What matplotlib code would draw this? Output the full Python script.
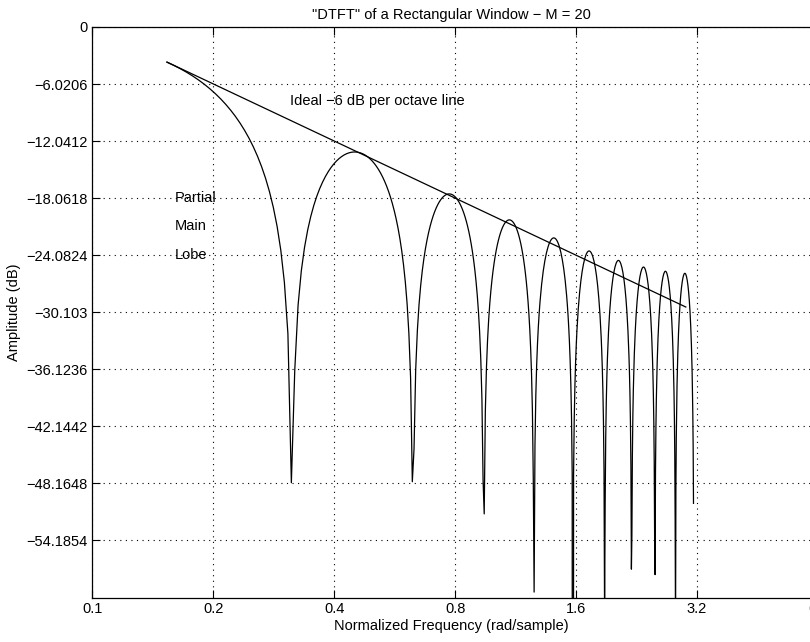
import numpy as np
import matplotlib.pyplot as plt
from matplotlib.ticker import NullLocator

# rectangular window, M = 20, evaluated like freqz (512 points on [0, pi))
window = [1] * 20
n_freq = 512
first_index = 25

# ideal -6 dB/octave line, end points
ideal_w = [0.1534, 3.0]
ideal_db = [-3.7, -29.55]

x_ticks = [0.1, 0.2, 0.4, 0.8, 1.6, 3.2, 6.4]
x_labels = ["0.1", "0.2", "0.4", "0.8", "1.6", "3.2", "6.4"]
y_ticks = [-54.1854, -48.1648, -42.1442, -36.1236, -30.103, -24.0824,
           -18.0618, -12.0412, -6.0206, 0]
y_labels = ["\u221254.1854", "\u221248.1648", "\u221242.1442", "\u221236.1236",
            "\u221230.103", "\u221224.0824", "\u221218.0618", "\u221212.0412",
            "\u22126.0206", "0"]

H = np.fft.fft(window, 2 * n_freq)[:n_freq]
w = np.pi * np.arange(n_freq) / n_freq
with np.errstate(divide="ignore"):
    db = 20 * np.log10(np.abs(H) / len(window))
db = np.maximum(db, -300)

plt.rcParams["font.family"] = ["Liberation Sans", "DejaVu Sans"]
plt.rcParams["font.size"] = 10.5

fig = plt.figure(figsize=(8.1, 6.42), dpi=100)
# the axes run a little past the right edge of the figure, as in the original
ax = fig.add_axes([92.3 / 810, 1 - 597.5 / 642, (818 - 92.3) / 810, (597.5 - 27) / 642])

ax.semilogx(w[first_index:], db[first_index:], color="black", lw=0.9)
ax.semilogx(ideal_w, ideal_db, color="black", lw=0.9)

ax.set_xlim(0.1, 6.4)
ax.set_ylim(-60.206, 0)
ax.set_xticks(x_ticks)
ax.set_xticklabels(x_labels)
ax.xaxis.set_minor_locator(NullLocator())
ax.set_yticks(y_ticks)
ax.set_yticklabels(y_labels)
ax.tick_params(direction="in", length=6, top=True, right=True, width=0.8)
ax.grid(True, linestyle=(0, (1, 4)), color="black", lw=0.8)
for s in ax.spines.values():
    s.set_linewidth(0.9)

ax.text(0.31, -7.8, "Ideal \u22126 dB per octave line", va="center")
ax.text(0.16, -18.03, "Partial", va="center")
ax.text(0.16, -20.98, "Main", va="center")
ax.text(0.16, -24.04, "Lobe", va="center")

ax.set_title('"DTFT" of a Rectangular Window \u2212 M = 20', fontsize=10.5, pad=6,
             x=(451 - 92.3) / (818 - 92.3))
ax.set_xlabel("Normalized Frequency (rad/sample)", labelpad=2,
              x=(451 - 92.3) / (818 - 92.3))
ax.set_ylabel("Amplitude (dB)", labelpad=4)

fig.savefig("out.png", dpi=100)
